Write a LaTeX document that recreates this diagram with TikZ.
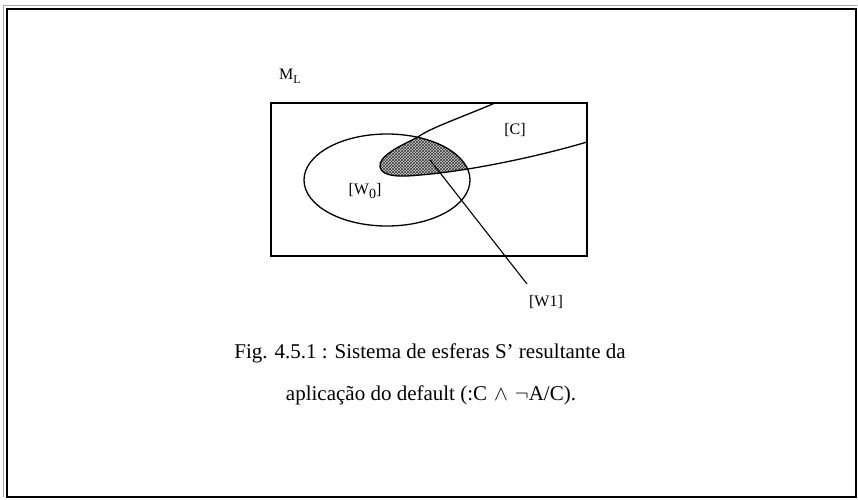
\documentclass[tikz,border=0pt]{standalone}
\usepackage{fontspec}
\setmainfont{Liberation Serif}
\usetikzlibrary{patterns}
\begin{document}
\begin{tikzpicture}[x=1pt,y=-1pt,
  lbl/.style={font=\fontsize{16}{18}\selectfont, inner sep=0pt},
  captext/.style={font=\fontsize{21}{24}\selectfont, inner sep=0pt, anchor=base},
  curve/.style={line width=1.3pt}]
\useasboundingbox (0,0) rectangle (858,499);
% frame
\draw[gray!70, line width=1pt] (3,497) -- (3,5) -- (857,5);
\draw[line width=1.6pt] (7,9) rectangle (856,497);
% universe rectangle
\draw[curve] (271,103) rectangle (587,256);
% shaded intersection
\begin{scope}
  \clip (387,180) ellipse [x radius=83, y radius=46];
  \fill[gray!35] (495,103) .. controls (460,118) and (430,128) .. (418,137)
     .. controls (400,146) and (378,156) .. (380,167)
     .. controls (382,177) and (400,177) .. (420,175)
     .. controls (470,171) and (540,156) .. (587,142) -- (587,103) -- cycle;
  \fill[pattern=crosshatch, pattern color=black!80] (495,103) .. controls (460,118) and (430,128) .. (418,137)
     .. controls (400,146) and (378,156) .. (380,167)
     .. controls (382,177) and (400,177) .. (420,175)
     .. controls (470,171) and (540,156) .. (587,142) -- (587,103) -- cycle;
\end{scope}
% W0 ellipse
\draw[curve] (387,180) ellipse [x radius=83, y radius=46];
% C region boundary
\draw[curve] (495,103) .. controls (460,118) and (430,128) .. (418,137)
     .. controls (400,146) and (378,156) .. (380,167)
     .. controls (382,177) and (400,177) .. (420,175)
     .. controls (470,171) and (540,156) .. (587,142);
% labels
\node[lbl] (ML) at (290,76) {M\raisebox{-0.55ex}{\fontsize{12}{13}\selectfont L}};
\node[lbl] (C) at (515,130) {[C]};
\node[lbl] (W0) at (365,191) {[W\raisebox{-0.45ex}{\fontsize{14}{15}\selectfont 0}]};
\node[lbl] (W1) at (546,302) {[W1]};
\coordinate (w1start) at (430,160);
\coordinate (w1end) at (527,284);
\draw[line width=1.1pt] (w1start) -- (w1end);
% caption
\node[captext] (cap1) at (430,358) {Fig. 4.5.1 : Sistema de esferas S’ resultante da};
\node[captext] (cap2) at (431,400) {aplicação do default (:C\,\,$\wedge$\,\,$\neg$A/C).};
\end{tikzpicture}
\end{document}
